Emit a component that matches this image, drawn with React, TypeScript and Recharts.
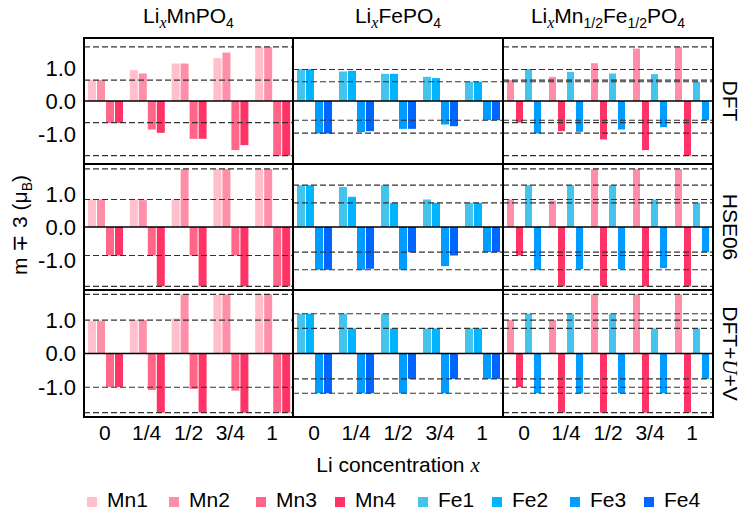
import { BarChart, Bar, XAxis, YAxis, ReferenceLine } from 'recharts'

const xLabels = ['0', '1/4', '1/2', '3/4', '1']

// colours for each site
const mnColors = ['#ffc0cb', '#ff8fa8', '#ff6687', '#ff3366']
const feColors = ['#44c3ec', '#00b4ff', '#009cff', '#0066ff']
const mixColors = [mnColors[1], mnColors[3], feColors[0], feColors[2]]

// LixMnPO4 : Mn1..Mn4
const mnDFT = [
  [0.63, 0.93, 1.13, 1.29, 1.63],
  [0.63, 0.83, 1.13, 1.46, 1.63],
  [-0.66, -0.86, -1.14, -1.48, -1.65],
  [-0.66, -0.96, -1.14, -1.33, -1.65],
]
const mnHSE = [
  [0.83, 0.83, 0.83, 1.75, 1.75],
  [0.83, 0.81, 1.75, 1.75, 1.75],
  [-0.86, -0.86, -0.86, -0.86, -1.79],
  [-0.86, -1.79, -1.79, -1.79, -1.79],
]
const mnUV = [
  [0.98, 1.0, 1.05, 1.75, 1.77],
  [0.98, 1.0, 1.77, 1.77, 1.77],
  [-1.0, -1.09, -1.06, -1.11, -1.77],
  [-1.0, -1.77, -1.77, -1.77, -1.77],
]

// LixFePO4 : Fe1..Fe4
const feDFT = [
  [0.96, 0.89, 0.82, 0.73, 0.58],
  [0.96, 0.91, 0.82, 0.69, 0.58],
  [-0.98, -0.94, -0.84, -0.71, -0.58],
  [-0.98, -0.91, -0.84, -0.76, -0.58],
]
const feHSE = [
  [1.26, 1.21, 1.26, 0.83, 0.73],
  [1.26, 0.91, 0.73, 0.73, 0.73],
  [-1.29, -1.29, -1.29, -1.18, -0.76],
  [-1.29, -1.26, -0.76, -0.86, -0.76],
]
const feUV = [
  [1.19, 1.19, 1.19, 0.75, 0.75],
  [1.19, 0.75, 0.75, 0.75, 0.75],
  [-1.19, -1.19, -1.19, -1.19, -0.76],
  [-1.19, -1.19, -0.76, -0.76, -0.76],
]

// LixMn1/2Fe1/2PO4 : Mn up, Mn down, Fe up, Fe down
const mixDFT = [
  [0.63, 0.73, 1.14, 1.58, 1.64],
  [-0.65, -0.91, -1.16, -1.48, -1.65],
  [0.96, 0.88, 0.83, 0.81, 0.58],
  [-0.98, -0.93, -0.86, -0.79, -0.58],
]
const mixHSE = [
  [0.83, 0.8, 1.75, 1.75, 1.75],
  [-0.86, -1.79, -1.79, -1.79, -1.79],
  [1.26, 1.26, 1.26, 0.83, 0.73],
  [-1.29, -1.27, -1.27, -1.24, -0.76],
]
const mixUV = [
  [1.0, 1.0, 1.77, 1.77, 1.77],
  [-1.0, -1.77, -1.77, -1.77, -1.77],
  [1.19, 1.19, 1.19, 0.75, 0.75],
  [-1.19, -1.19, -1.19, -1.19, -0.76],
]

// dashed reference levels
const mnDFTLevels = [1.63, 0.63, -0.65, -1.65]
const feDFTLevels = [0.95, 0.58, -0.58, -0.97]
const mixDFTLevels = [1.63, 0.95, 0.63, 0.58, -0.58, -0.65, -0.97, -1.65]
const mnHSELevels = [1.75, 0.83, -0.86, -1.79]
const feHSELevels = [1.26, 0.73, -0.76, -1.29]
const mixHSELevels = [1.75, 1.26, 0.83, 0.73, -0.76, -0.86, -1.29, -1.79]
const mnUVLevels = [1.77, 1.0, -1.01, -1.77]
const feUVLevels = [1.19, 0.75, -0.76, -1.19]
const mixUVLevels = [1.77, 1.19, 1.0, 0.75, -0.76, -1.01, -1.19, -1.77]

const legendNames = ['Mn1', 'Mn2', 'Mn3', 'Mn4', 'Fe1', 'Fe2', 'Fe3', 'Fe4']
const legendColors = [...mnColors, ...feColors]
const legendX = [87, 169, 256, 335, 418, 492, 570, 644]

const FONT = '"Liberation Sans", Arial, Helvetica, sans-serif'
const SERIF = '"Liberation Serif", "Times New Roman", serif'

const colLeft = [84, 293, 503]
const colWidth = [209, 210, 210]
const rowTop = [38, 164, 290]
const rowHeight = [126, 126, 127]

type PanelProps = {
  left: number
  top: number
  width: number
  height: number
  series: number[][]
  colors: string[]
  levels: number[]
  gap: number
  withY: boolean
  withX: boolean
}

function Panel({ left, top, width, height, series, colors, levels, gap, withY, withX }: PanelProps) {
  const data = xLabels.map((x, i) => ({
    x,
    s0: series[0][i],
    s1: series[1][i],
    s2: series[2][i],
    s3: series[3][i],
  }))
  const yW = withY ? 84 : 0
  const xH = withX ? 30 : 0
  return (
    <div style={{ position: 'absolute', left: left - yW, top }}>
      <BarChart
        width={width + yW}
        height={height + xH}
        data={data}
        margin={{ top: 0, right: 0, bottom: 0, left: 0 }}
        barCategoryGap={4}
        barGap={gap}
      >
        <XAxis
          dataKey="x"
          hide={!withX}
          height={xH}
          axisLine={false}
          tickLine={false}
          interval={0}
          tick={{ fontSize: 21, fill: '#000', fontFamily: FONT }}
        />
        <YAxis
          hide={!withY}
          width={yW}
          domain={[-1.9, 1.9]}
          ticks={[-1, 0, 1]}
          allowDataOverflow
          axisLine={false}
          tickLine={false}
          tickFormatter={(v) => Number(v).toFixed(1)}
          tick={{ fontSize: 22, fill: '#000', fontFamily: FONT }}
        />
        {levels.map((l) => (
          <ReferenceLine key={l} y={l} stroke="#333" strokeDasharray="6 3" strokeWidth={1.2} />
        ))}
        <ReferenceLine y={0} stroke="#000" strokeWidth={1.4} />
        {colors.map((c, k) => (
          <Bar key={k} dataKey={'s' + k} fill={c} isAnimationActive={false} />
        ))}
      </BarChart>
    </div>
  )
}

const panels = [
  [mnDFT, feDFT, mixDFT],
  [mnHSE, feHSE, mixHSE],
  [mnUV, feUV, mixUV],
]
const panelLevels = [
  [mnDFTLevels, feDFTLevels, mixDFTLevels],
  [mnHSELevels, feHSELevels, mixHSELevels],
  [mnUVLevels, feUVLevels, mixUVLevels],
]
const panelColors = [mnColors, feColors, mixColors]

export default function App() {
  const colCenter = colLeft.map((l, i) => l + colWidth[i] / 2)
  const rowCenter = rowTop.map((t, i) => t + rowHeight[i] / 2)
  return (
    <div
      style={{
        position: 'absolute',
        left: 0,
        top: 0,
        width: 747,
        height: 515,
        background: '#fff',
        fontFamily: FONT,
      }}
    >
      {panels.map((row, r) =>
        row.map((series, c) => (
          <Panel
            key={r + '-' + c}
            left={colLeft[c]}
            top={rowTop[r]}
            width={colWidth[c]}
            height={rowHeight[r]}
            series={series}
            colors={panelColors[c]}
            levels={panelLevels[r][c]}
            gap={c === 2 ? 2 : 1}
            withY={c === 0}
            withX={r === 2}
          />
        ))
      )}
      <svg
        width={747}
        height={515}
        style={{ position: 'absolute', left: 0, top: 0, pointerEvents: 'none' }}
        fontFamily={FONT}
      >
        {rowTop.map((t, r) =>
          colLeft.map((l, c) => (
            <rect
              key={r + '-' + c}
              x={l}
              y={t}
              width={colWidth[c]}
              height={rowHeight[r]}
              fill="none"
              stroke="#000"
              strokeWidth={2}
            />
          ))
        )}

        {/* column titles */}
        <text x={colCenter[0]} y={23} textAnchor="middle" fontSize={21}>
          Li
          <tspan fontFamily={SERIF} fontStyle="italic" fontSize={16} dy={5}>x</tspan>
          <tspan dy={-5}>MnPO</tspan>
          <tspan fontSize={14} dy={5}>4</tspan>
        </text>
        <text x={colCenter[1]} y={23} textAnchor="middle" fontSize={21}>
          Li
          <tspan fontFamily={SERIF} fontStyle="italic" fontSize={16} dy={5}>x</tspan>
          <tspan dy={-5}>FePO</tspan>
          <tspan fontSize={14} dy={5}>4</tspan>
        </text>
        <text x={colCenter[2]} y={23} textAnchor="middle" fontSize={21}>
          Li
          <tspan fontFamily={SERIF} fontStyle="italic" fontSize={16} dy={5}>x</tspan>
          <tspan dy={-5}>Mn</tspan>
          <tspan fontSize={14} dy={5}>1/2</tspan>
          <tspan dy={-5}>Fe</tspan>
          <tspan fontSize={14} dy={5}>1/2</tspan>
          <tspan dy={-5}>PO</tspan>
          <tspan fontSize={14} dy={5}>4</tspan>
        </text>

        {/* row labels */}
        <text transform={`translate(723, ${rowCenter[0]}) rotate(90)`} textAnchor="middle" fontSize={21}>
          DFT
        </text>
        <text transform={`translate(723, ${rowCenter[1]}) rotate(90)`} textAnchor="middle" fontSize={21}>
          HSE06
        </text>
        <text transform={`translate(723, ${rowCenter[2]}) rotate(90)`} textAnchor="middle" fontSize={21}>
          DFT+<tspan fontFamily={SERIF} fontStyle="italic">U</tspan>+V
        </text>

        {/* y label */}
        <text transform="translate(27, 225) rotate(-90)" textAnchor="middle" fontSize={21}>
          m ∓ 3 (μ<tspan fontSize={14} dy={5}>B</tspan>
          <tspan dy={-5}>)</tspan>
        </text>

        {/* x label */}
        <text x={398} y={472} textAnchor="middle" fontSize={21}>
          Li concentration <tspan fontFamily={SERIF} fontStyle="italic">x</tspan>
        </text>

        {/* legend */}
        {legendNames.map((n, i) => (
          <g key={n}>
            <rect x={legendX[i]} y={497} width={10} height={10} fill={legendColors[i]} />
            <text x={legendX[i] + 20} y={507} fontSize={21}>
              {n}
            </text>
          </g>
        ))}
      </svg>
    </div>
  )
}
